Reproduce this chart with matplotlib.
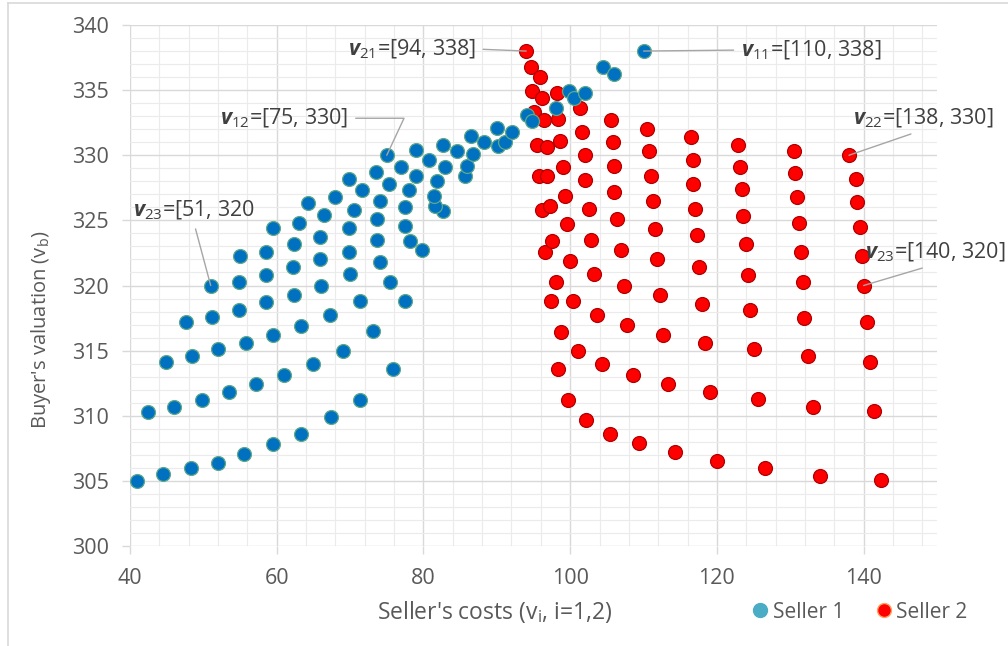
import matplotlib
matplotlib.use("Agg")
import matplotlib.pyplot as plt
from matplotlib.lines import Line2D
from matplotlib.ticker import MultipleLocator

plt.rcParams['font.family'] = ['Open Sans', 'DejaVu Sans']
plt.rcParams['mathtext.fontset'] = 'custom'
plt.rcParams['mathtext.rm'] = 'Open Sans'
plt.rcParams['mathtext.it'] = 'Open Sans:italic'
plt.rcParams['mathtext.bf'] = 'Open Sans:bold'
plt.rcParams['mathtext.bfit'] = 'Open Sans:italic:bold'

# Seller 1 offers (cost, buyer valuation)
seller1_x = [
    41.0, 44.5, 48.3, 52.0, 55.6, 59.5, 63.3, 67.4, 71.4, 75.8,
    42.5, 46.0, 49.8, 53.5, 57.2, 61.0, 65.0, 69.0, 73.1, 77.5,
    44.9, 48.4, 52.0, 55.8, 59.5, 63.3, 67.3, 71.3, 75.4, 79.8,
    47.6, 51.2, 54.9, 58.6, 62.4, 66.1, 70.0, 74.1, 78.2, 82.6,
    51.0, 54.8, 58.5, 62.2, 65.9, 69.8, 73.6, 77.5, 81.6,
    55.0, 58.6, 62.3, 65.9, 69.8, 73.6, 77.5, 81.5, 85.7,
    59.5, 63.0, 66.5, 70.5, 74.1, 78.0, 81.8, 85.9,
    64.2, 68.0, 71.6, 75.3, 79.0, 83.0, 86.8, 90.2,
    69.8, 73.5, 76.9, 80.7, 84.6, 88.3, 91.1, 92.1,
    75.0, 79.0, 82.7, 86.5, 90.0, 94.1, 94.8, 98.0,
    99.8, 100.5, 102.0, 104.5, 106.0, 110.0,
]
seller1_y = [
    305.0, 305.5, 306.0, 306.4, 307.1, 307.8, 308.6, 309.9, 311.2, 313.6,
    310.3, 310.7, 311.2, 311.8, 312.4, 313.1, 314.0, 315.0, 316.5, 318.8,
    314.1, 314.6, 315.1, 315.6, 316.2, 316.9, 317.7, 318.8, 320.3, 322.7,
    317.2, 317.6, 318.1, 318.7, 319.3, 320.0, 320.9, 321.8, 323.4, 325.7,
    320.0, 320.3, 320.8, 321.4, 322.0, 322.6, 323.5, 324.6, 326.1,
    322.3, 322.6, 323.2, 323.7, 324.4, 325.1, 326.0, 326.9, 328.4,
    324.4, 324.8, 325.4, 325.8, 326.5, 327.3, 328.0, 329.2,
    326.3, 326.8, 327.3, 327.8, 328.4, 329.1, 330.1, 330.7,
    328.2, 328.7, 329.1, 329.6, 330.3, 331.0, 331.0, 331.8,
    330.0, 330.4, 330.8, 331.5, 332.1, 333.1, 332.6, 333.6,
    334.9, 334.4, 334.8, 336.8, 336.2, 338.0,
]

# Seller 2 offers, one row per column of points
seller2_x = [
    94.0, 94.7, 94.8, 95.0, 95.5, 95.7, 96.1, 96.6, 97.4, 98.3,
    95.9, 96.1, 96.4, 96.8, 96.8, 97.3, 97.5, 98.1, 98.8, 99.7,
    98.2, 98.4, 98.6, 99.0, 99.3, 99.5, 100.0, 100.4, 101.0, 102.2,
    101.4, 101.6, 102.0, 102.0, 102.5, 102.9, 103.2, 103.7, 104.3, 105.4,
    105.5, 105.8, 106.0, 106.0, 106.4, 106.9, 107.3, 107.8, 108.5, 109.4,
    110.5, 110.8, 111.0, 111.3, 111.5, 111.8, 112.2, 112.6, 113.4, 114.3,
    116.5, 116.7, 116.8, 117.0, 117.3, 117.6, 117.9, 118.4, 119.0, 120.0,
    122.9, 123.2, 123.4, 123.6, 124.0, 124.3, 124.5, 125.0, 125.6, 126.6,
    130.5, 130.7, 130.9, 131.2, 131.4, 131.7, 131.9, 132.4, 133.1, 134.0,
    138.0, 139.0, 139.1, 139.5, 139.8, 140.0, 140.5, 140.9, 141.4, 142.4,
]
seller2_y = [
    338.0, 336.8, 334.9, 333.3, 330.8, 328.4, 325.8, 322.6, 318.8, 313.6,
    336.0, 334.4, 332.7, 330.6, 328.4, 326.1, 323.4, 320.3, 316.4, 311.2,
    334.8, 332.8, 331.1, 329.1, 326.9, 324.7, 321.9, 318.8, 315.0, 309.7,
    333.6, 331.8, 330.0, 328.1, 325.9, 323.5, 320.9, 317.7, 314.0, 308.6,
    332.7, 331.0, 329.2, 327.2, 325.1, 322.7, 320.0, 317.0, 313.1, 307.9,
    332.0, 330.3, 328.4, 326.5, 324.3, 322.0, 319.3, 316.2, 312.4, 307.2,
    331.4, 329.6, 327.8, 325.9, 323.9, 321.4, 318.6, 315.6, 311.8, 306.5,
    330.8, 329.1, 327.4, 325.3, 323.2, 320.8, 318.1, 315.1, 311.3, 306.0,
    330.3, 328.6, 326.8, 324.8, 322.6, 320.3, 317.5, 314.6, 310.7, 305.4,
    330.0, 328.2, 326.4, 324.5, 322.3, 320.0, 317.2, 314.1, 310.4, 305.1,
]

# labelled points
label_names = ['21', '11', '12', '23', '22', '23']
label_x = [94, 110, 75, 51, 138, 140]
label_y = [338, 338, 330, 320, 330, 320]
label_close = [']', ']', ']', '', ']', ']']

fig = plt.figure(figsize=(10.08, 6.46), dpi=100)
W, H = 1008, 646
ax = fig.add_axes([130 / W, 1 - 546 / H, (937 - 130) / W, (546 - 25) / H])

grey = '#595959'
ax.scatter(seller2_x, seller2_y, s=100, color='#ff0000', edgecolors='#b00000',
           linewidths=0.9, zorder=3)
ax.scatter(seller1_x, seller1_y, s=100, color='#0070c0', edgecolors='#5fa88a',
           linewidths=0.9, zorder=4)

ax.set_xlim(40, 150)
ax.set_ylim(300, 340)
ax.xaxis.set_major_locator(MultipleLocator(20))
ax.xaxis.set_minor_locator(MultipleLocator(4))
ax.yaxis.set_major_locator(MultipleLocator(5))
ax.yaxis.set_minor_locator(MultipleLocator(1))
ax.grid(which='major', color='#d9d9d9', lw=1.0, zorder=0)
ax.grid(which='minor', color='#ebebeb', lw=0.8, zorder=0)
ax.set_axisbelow(True)
for sp in ax.spines.values():
    sp.set_visible(False)
ax.tick_params(which='major', length=6, width=1.0, color='#d9d9d9',
               labelcolor=grey, labelsize=15.5)
ax.tick_params(axis='y', pad=9)
ax.tick_params(axis='x', pad=10)
ax.tick_params(which='minor', length=0)
ax.set_xticks([40, 60, 80, 100, 120, 140])

fig.text(495 / W, 1 - 612 / H, "Seller's costs (v$_{\\mathrm{i}}$, i=1,2)",
         ha='center', va='center', fontsize=16.5, color=grey)
fig.text(41 / W, 1 - 330 / H, "Buyer's valuation (v$_{\\mathrm{b}}$)",
         ha='center', va='center', rotation=90, fontsize=14.5, color=grey)

# annotation text offsets in pixels (dx, dy up) and alignment
offs = [(-50, 2), (97, 1), (-38, 37), (-17, 75), (74, 37), (72, 33)]
ha = ['right', 'left', 'right', 'center', 'center', 'center']
rel = [(1, 0.5), (0, 0.5), (1, 0.5), (0.5, 0), (0.5, 0), (0.5, 0)]
conn = ['arc3', 'arc3', 'angle,angleA=0,angleB=65,rad=0', 'arc3', 'arc3', 'arc3']
for i in range(len(label_names)):
    txt = (r'$\mathbfit{v}_{%s}$=[%d, %d%s' %
           (label_names[i], label_x[i], label_y[i], label_close[i]))
    ax.annotate(txt, xy=(label_x[i], label_y[i]),
                xytext=(offs[i][0] * 0.72, offs[i][1] * 0.72),
                textcoords='offset points', ha=ha[i], va='center',
                fontsize=15.5, color='#404040', zorder=6,
                arrowprops=dict(arrowstyle='-', color='#a6a6a6', lw=1.0,
                                shrinkA=3, shrinkB=0, relpos=rel[i],
                                connectionstyle=conn[i]),
                annotation_clip=False)

handles = [
    Line2D([], [], ls='none', marker='o', ms=10, mfc='#4bacc6', mec='#4bacc6'),
    Line2D([], [], ls='none', marker='o', ms=10, mfc='#ff0000', mec='#ffa060'),
]
fig.legend(handles, ['Seller 1', 'Seller 2'], loc='center left',
           bbox_to_anchor=(731 / W, 1 - 612 / H), ncol=2, frameon=False,
           fontsize=15, handletextpad=0.1, columnspacing=1.4,
           handlelength=1.0, labelcolor=grey)

# chart frame
fig.add_artist(Line2D([8 / W, 1], [1 - 3 / H, 1 - 3 / H], color='#d9d9d9', lw=1.2))
fig.add_artist(Line2D([8 / W, 8 / W], [0, 1 - 3 / H], color='#d9d9d9', lw=1.2))

fig.savefig('out.png', dpi=100)
